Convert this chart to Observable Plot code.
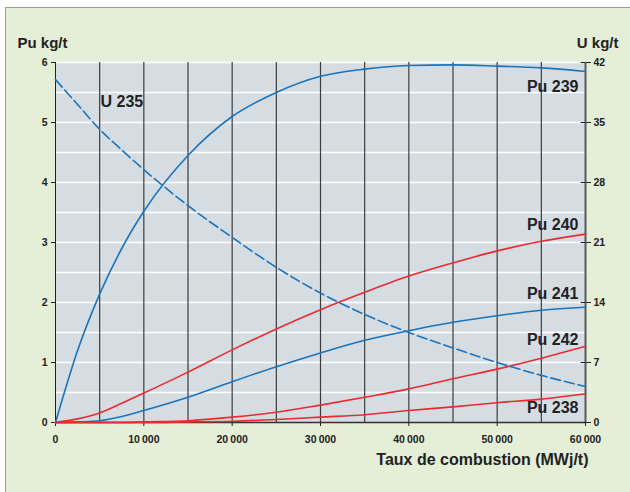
<!DOCTYPE html>
<html>
<head>
<meta charset="utf-8">
<script src="https://cdn.jsdelivr.net/npm/d3@7"></script>
<script src="https://cdn.jsdelivr.net/npm/@observablehq/plot@0.6"></script>
<style>
  html, body { margin: 0; padding: 0; background: #ffffff; }
  #page { position: relative; width: 630px; height: 492px; overflow: hidden; }
  #panel { position: absolute; left: 5px; top: 7px; width: 640px; height: 500px;
           background: #e5eed6; border: 1px solid #9c9c9c; box-sizing: border-box; }
  #chart { position: absolute; left: 0; top: 0; }
</style>
</head>
<body>
<div id="page"><div id="panel"></div><div id="chart"></div></div>
<script>
// ---- data ----
const burnup = [0, 2500, 5000, 7500, 10000, 15000, 20000, 25000, 30000, 35000, 40000, 45000, 50000, 55000, 60000];
const pu239 = [0, 1.20, 2.14, 2.90, 3.52, 4.45, 5.10, 5.50, 5.77, 5.89, 5.95, 5.96, 5.94, 5.91, 5.85];
const pu240 = [0, 0.06, 0.16, 0.32, 0.49, 0.84, 1.21, 1.56, 1.88, 2.17, 2.44, 2.66, 2.86, 3.02, 3.14];
const pu241 = [0, 0.01, 0.03, 0.10, 0.20, 0.42, 0.68, 0.93, 1.16, 1.37, 1.53, 1.67, 1.78, 1.87, 1.92];
const pu242 = [0, 0, 0, 0, 0.01, 0.03, 0.09, 0.17, 0.29, 0.42, 0.56, 0.73, 0.89, 1.07, 1.27];
const pu238 = [0, 0, 0, 0, 0, 0.01, 0.02, 0.05, 0.09, 0.13, 0.20, 0.26, 0.33, 0.39, 0.48];
const u235  = [40.0, 37.1, 34.2, 31.8, 29.5, 25.3, 21.6, 18.1, 15.1, 12.6, 10.5, 8.7, 7.0, 5.5, 4.2]; // U kg/t (right axis)

const xTicks = [0, 10000, 20000, 30000, 40000, 50000, 60000];
const puTicks = [0, 1, 2, 3, 4, 5, 6];
const uTicks = [0, 7, 14, 21, 28, 35, 42];
const seriesNames = ["Pu 239", "Pu 240", "Pu 241", "Pu 242", "Pu 238", "U 235"];
const titleLeft = "Pu kg/t";
const titleRight = "U kg/t";
const xTitle = "Taux de combustion (MWj/t)";

// ---- build ----
const U_PER_PU = 7; // right axis 0–42 ↔ left axis 0–6
const blue = "#1b74bd", red = "#ec2a30";
const mk = (ys, name) => burnup.map((x, i) => ({x, y: ys[i], name}));
const puSeries = [
  {rows: mk(pu239, seriesNames[0]), color: blue},
  {rows: mk(pu240, seriesNames[1]), color: red},
  {rows: mk(pu241, seriesNames[2]), color: blue},
  {rows: mk(pu242, seriesNames[3]), color: red},
  {rows: mk(pu238, seriesNames[4]), color: red}
];
const uRows = burnup.map((x, i) => ({x, y: u235[i] / U_PER_PU}));

const fmt = d => d3.format(",")(d).replace(/,/g, "\u2009");
const font = "Liberation Sans, Arial, Helvetica, sans-serif";

const labelPos = [
  {name: seriesNames[0], y: 5.6},
  {name: seriesNames[1], y: 3.3},
  {name: seriesNames[2], y: 2.15},
  {name: seriesNames[3], y: 1.38},
  {name: seriesNames[4], y: 0.24}
];

const chart = Plot.plot({
  width: 630,
  height: 492,
  marginLeft: 55,
  marginRight: 45,
  marginTop: 62,
  marginBottom: 70,
  style: {background: "transparent", fontFamily: font, fontWeight: "bold", fontSize: "10.5px", color: "#222", overflow: "visible"},
  x: {domain: [0, 60000]},
  y: {domain: [0, 6]},
  marks: [
    Plot.frame({fill: "#d5dde3", stroke: "none"}),
    Plot.ruleY(d3.range(0.5, 6.01, 0.5), {stroke: "#ffffff", strokeWidth: 1.6}),
    Plot.ruleX(d3.range(5000, 60000, 5000), {stroke: "#3c3c3c", strokeWidth: 1.2}),
    Plot.ruleX([0], {stroke: "#222", strokeWidth: 1}),
    Plot.ruleX([60000], {stroke: "#5a5a5a", strokeWidth: 2}),
    Plot.ruleY([0], {stroke: "#333", strokeWidth: 1.4}),
    Plot.axisX(xTicks, {label: null, tickFormat: fmt, tickSize: 4, tickPadding: 9, fontWeight: "bold"}),
    Plot.axisY(puTicks, {anchor: "left", label: null, tickFormat: d => String(d), tickSize: 4, tickPadding: 4, fontWeight: "bold"}),
    Plot.axisY(uTicks.map(u => u / U_PER_PU), {anchor: "right", label: null, tickSize: 5, tickPadding: 3, fontWeight: "bold",
      tickFormat: d => String(Math.round(d * U_PER_PU))}),
    Plot.ruleY(uTicks.map(u => u / U_PER_PU), {x1: 59500, x2: 60000, stroke: "#222"}),
    ...puSeries.map(s => Plot.line(s.rows, {x: "x", y: "y", stroke: s.color, strokeWidth: 1.6, curve: "monotone-x"})),
    Plot.line(uRows, {x: "x", y: "y", stroke: blue, strokeWidth: 1.6, strokeDasharray: "10,4", curve: "monotone-x"}),
    Plot.text(labelPos, {x: () => 60000, y: "y", text: "name", textAnchor: "end", dx: -7, fontSize: 16, fontWeight: "bold", fill: "#222"}),
    Plot.text([seriesNames[5]], {x: () => 5094, y: () => 5.35, textAnchor: "start", fontSize: 16, fontWeight: "bold", fill: "#222"}),
    Plot.text([titleLeft], {frameAnchor: "top-left", dx: -38, dy: -25.5, textAnchor: "start", fontSize: 15, fontWeight: "bold", fill: "#222"}),
    Plot.text([titleRight], {frameAnchor: "top-right", dx: 33, dy: -25.5, textAnchor: "end", fontSize: 15, fontWeight: "bold", fill: "#222"}),
    Plot.text([xTitle], {frameAnchor: "bottom-right", dx: 3, dy: 42, textAnchor: "end", fontSize: 16, fontWeight: "bold", fill: "#222"})
  ]
});
document.getElementById("chart").appendChild(chart);
</script>
</body>
</html>
